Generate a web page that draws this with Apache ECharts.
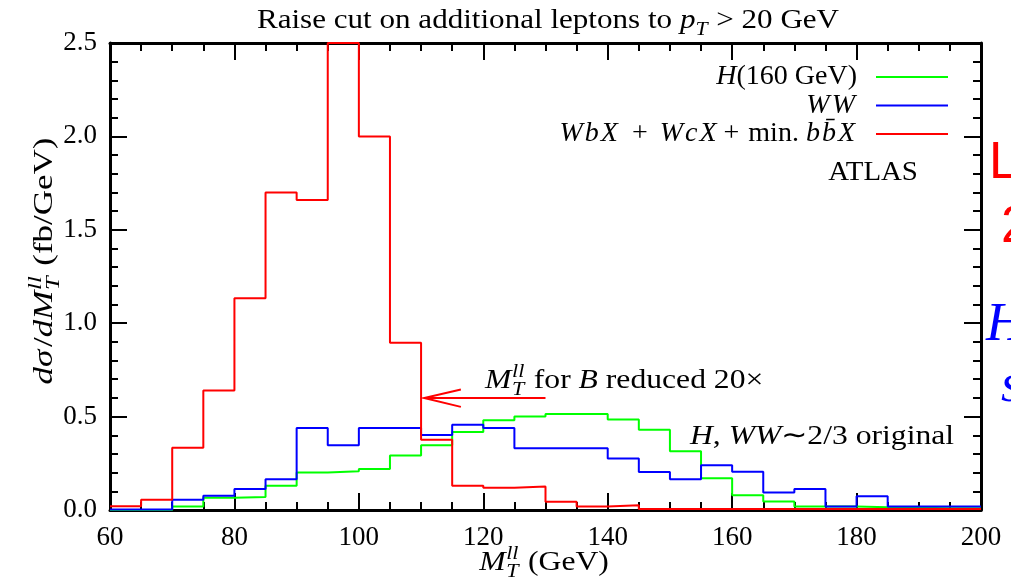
<!DOCTYPE html>
<html>
<head>
<meta charset="utf-8">
<script src="https://cdn.jsdelivr.net/npm/echarts@6/dist/echarts.min.js"></script>
<style>
  html, body { margin: 0; padding: 0; background: #fff; }
  #chart { width: 1011px; height: 581px; }
</style>
</head>
<body>
<div id="chart"></div>
<script>
// Left edges of the 5 GeV bins in M_T^ll; the last bin closes at binEnd.
const binStarts = [60, 65, 70, 75, 80, 85, 90, 95, 100, 105, 110, 115, 120, 125,
                   130, 135, 140, 145, 150, 155, 160, 165, 170, 175, 180, 185, 190, 195];
const binEnd = 200;

// dσ/dM_T^ll in fb/GeV, one value per bin.
const higgs160 = [0.0, 0.0, 0.019, 0.066, 0.069, 0.13, 0.201, 0.208, 0.219, 0.292,
                  0.346, 0.417, 0.48, 0.501, 0.514, 0.514, 0.485, 0.43, 0.314, 0.17,
                  0.079, 0.046, 0.019, 0.019, 0.015, 0.012, 0.01, 0.01];
const wwBkg = [0.003, 0.003, 0.055, 0.076, 0.112, 0.165, 0.439, 0.346, 0.439, 0.439,
               0.401, 0.457, 0.439, 0.33, 0.33, 0.33, 0.276, 0.203, 0.165, 0.239,
               0.205, 0.094, 0.112, 0.019, 0.074, 0.019, 0.019, 0.019];
const wbxBkg = [0.02, 0.055, 0.333, 0.64, 1.134, 1.70, 1.66, 2.5, 2.0, 0.895,
                0.376, 0.13, 0.119, 0.126, 0.044, 0.019, 0.026, 0.005, 0.005, 0.005,
                0.005, 0.005, 0.005, 0.005, 0.005, 0.005, 0.005, 0.005];

const seriesNames = ['H(160 GeV)', 'WW', 'WbX + WcX + min. bb\u0304X'];
const legendLabels = [
  '{i|H}(160 GeV)',
  '{j|W}{j|W}',
  '{j|W}{j|b}{j|X}{op|+}{j|W}{j|c}{j|X}{op2|+} min. {j|b}{j|b\u0304}{j|X}'
];
const seriesColors = ['#00ff00', '#0000ff', '#ff0000'];

// Arrow annotation, in data coordinates (GeV, fb/GeV).
const arrowTail = [130, 0.6];
const arrowTip = [110.5, 0.6];
const arrowBarb = [[116.4, 0.645], [116.4, 0.552]];

const SERIF = "'Liberation Serif', 'Times New Roman', serif";
const TEXT_SIZE = 28;
const TICK_SIZE = 27;
const WIDEN = 1.13;   // Times is narrower than a TeX roman; stretch the set text

// Histogram outline: each bin value held from its left edge to the next edge.
function toSteps(values) {
  const pts = binStarts.map((x, i) => [x, values[i]]);
  pts.push([binEnd, values[values.length - 1]]);
  return pts;
}

function histSeries(idx, values, z) {
  return {
    name: seriesNames[idx],
    type: 'line',
    step: 'end',
    data: toSteps(values),
    symbol: 'none',
    showSymbol: false,
    lineStyle: { color: seriesColors[idx], width: 2 },
    itemStyle: { color: seriesColors[idx] },
    z: z,
    clip: true
  };
}

// Small inline-math typesetter: lays runs out left to right, with optional
// stacked sub/superscripts (a run with hold:true does not advance the pen).
const meas = document.createElement('canvas').getContext('2d');
function fontOf(size, italic) {
  return (italic ? 'italic ' : '') + size + 'px ' + SERIF;
}
function mathText(runs, size, opt) {
  const color = opt.color || '#000';
  let x = 0, heldW = 0;
  const kids = [];
  runs.forEach(r => {
    const fs = size * (r.s || 1);
    meas.font = fontOf(fs, r.it);
    const w = meas.measureText(r.t).width;
    kids.push({
      type: 'text',
      x: x,
      y: (r.dy || 0) * size,
      style: {
        text: r.t, fill: color, font: fontOf(fs, r.it),
        textAlign: 'left', align: 'left',
        textVerticalAlign: 'middle', verticalAlign: 'middle'
      }
    });
    if (r.hold) {
      heldW = Math.max(heldW, w);
    } else {
      x += Math.max(w, heldW) + (r.gap || 0) * size;
      heldW = 0;
    }
  });
  const total = x;
  const shift = opt.anchor === 'center' ? -total / 2 : (opt.anchor === 'right' ? -total : 0);
  kids.forEach(k => { k.x += shift; });
  const sx = opt.scaleX || WIDEN;
  return {
    type: 'group', x: opt.x, y: opt.y, rotation: opt.rotation || 0,
    scaleX: sx, scaleY: 1,
    silent: true, children: kids
  };
}

const MTll = [
  { t: 'M', it: true, gap: 0.02 },
  { t: 'T', it: true, s: 0.7, dy: 0.3, hold: true },
  { t: 'll', it: true, s: 0.7, dy: -0.33, gap: 0.05 }
];

const chart = echarts.init(document.getElementById('chart'));

function axisCommon(show) {
  return {
    axisLine: { show: true, onZero: false, lineStyle: { color: '#000', width: 3 } },
    axisTick: { show: true, inside: true, length: 17, lineStyle: { color: '#000', width: 2 } },
    splitLine: { show: false },
    axisLabel: {
      show: show, color: '#000', fontFamily: SERIF, fontSize: TICK_SIZE
    }
  };
}

const xBase = () => Object.assign(axisCommon(true), {
  type: 'value', min: 60, max: 200, interval: 20,
  minorTick: { show: true, splitNumber: 4, length: 8, lineStyle: { color: '#000', width: 2 } }
});
const yBase = () => Object.assign(axisCommon(true), {
  type: 'value', min: 0, max: 2.5, interval: 0.5,
  minorTick: { show: true, splitNumber: 5, length: 8, lineStyle: { color: '#000', width: 2 } }
});

const xBottom = xBase();
xBottom.position = 'bottom';
xBottom.axisLabel.margin = 14;
const xTop = xBase();
xTop.position = 'top';
xTop.axisLabel.show = false;
const yLeft = yBase();
yLeft.position = 'left';
yLeft.axisLabel.margin = 13;
yLeft.axisLabel.formatter = v => v.toFixed(1);
const yRight = yBase();
yRight.position = 'right';
yRight.axisLabel.show = false;

const legendFont = { fontFamily: SERIF, fontSize: TEXT_SIZE, lineHeight: 26.5, color: '#000' };

chart.setOption({
  animation: false,
  backgroundColor: '#fff',
  grid: { left: 110, right: 30, top: 43, bottom: 71, containLabel: false },
  xAxis: [xBottom, xTop],
  yAxis: [yLeft, yRight],
  legend: {
    orient: 'vertical',
    right: 58,
    top: 58,
    align: 'right',
    icon: 'rect',
    itemWidth: 72,
    itemHeight: 2,
    itemGap: 0.5,
    selectedMode: false,
    data: seriesNames,
    formatter: name => legendLabels[seriesNames.indexOf(name)],
    textStyle: Object.assign({}, legendFont, {
      padding: [0, 14, 0, 0],
      rich: {
        i: Object.assign({ fontStyle: 'italic' }, legendFont),
        j: Object.assign({ fontStyle: 'italic', padding: [0, 2, 0, 0] }, legendFont),
        op: Object.assign({ padding: [0, 12, 0, 12] }, legendFont),
        op2: Object.assign({ padding: [0, 2, 0, 5] }, legendFont)
      }
    })
  },
  series: [
    histSeries(0, higgs160, 2),
    histSeries(1, wwBkg, 3),
    histSeries(2, wbxBkg, 4)
  ]
});

const px = p => chart.convertToPixel({ gridIndex: 0 }, p);
const tip = px(arrowTip), tail = px(arrowTail);
const barbA = px(arrowBarb[0]), barbB = px(arrowBarb[1]);

chart.setOption({
  graphic: [
    // title
    mathText([
      { t: 'Raise cut on additional leptons to ' },
      { t: 'p', it: true },
      { t: 'T', it: true, s: 0.7, dy: 0.3, gap: 0.28 },
      { t: '> 20 GeV' }
    ], TEXT_SIZE, { x: 548, y: 21, anchor: 'center', scaleX: 1.11 }),
    // y axis title
    mathText([
      { t: 'd\u03c3', it: true, gap: 0.08 }, { t: '/' }, { t: 'd', it: true }
    ].concat(MTll, [{ t: ' (fb/GeV)' }]), TEXT_SIZE,
      { x: 45, y: 261, anchor: 'center', rotation: Math.PI / 2, scaleX: 1.25 }),
    // x axis title
    mathText(MTll.concat([{ t: ' (GeV)' }]), TEXT_SIZE, { x: 544, y: 563, anchor: 'center' }),
    // annotations
    mathText(MTll.concat([{ t: ' for ' }, { t: 'B', it: true }, { t: ' reduced 20\u00d7' }]), TEXT_SIZE,
      { x: 485, y: 381, anchor: 'left' }),
    mathText([
      { t: 'H', it: true }, { t: ', ' }, { t: 'WW', it: true }, { t: '\u223c' }, { t: '2/3 original' }
    ], TEXT_SIZE, { x: 690, y: 437, anchor: 'left' }),
    mathText([{ t: 'ATLAS' }], TEXT_SIZE, { x: 873, y: 173, anchor: 'center', scaleX: 1.03 }),
    {
      type: 'polyline', silent: true, z: 10,
      shape: { points: [tail, tip] },
      style: { stroke: '#ff0000', lineWidth: 2, fill: null }
    },
    {
      type: 'polyline', silent: true, z: 10,
      shape: { points: [barbA, tip, barbB] },
      style: { stroke: '#ff0000', lineWidth: 2, fill: null }
    },
    // lettering that runs off the right edge
    { type: 'text', x: 989, y: 138, silent: true,
      style: { text: 'L', fill: '#ff0000', font: "52px 'Liberation Sans', sans-serif" } },
    { type: 'text', x: 1001, y: 202, silent: true,
      style: { text: '2', fill: '#ff0000', font: "52px 'Liberation Sans', sans-serif" } },
    { type: 'text', x: 986, y: 299, silent: true,
      style: { text: 'H', fill: '#0000ff', font: "italic 54px " + SERIF } },
    { type: 'text', x: 1001, y: 360, silent: true,
      style: { text: 's', fill: '#0000ff', font: "italic 54px " + SERIF } }
  ]
});
</script>
</body>
</html>
